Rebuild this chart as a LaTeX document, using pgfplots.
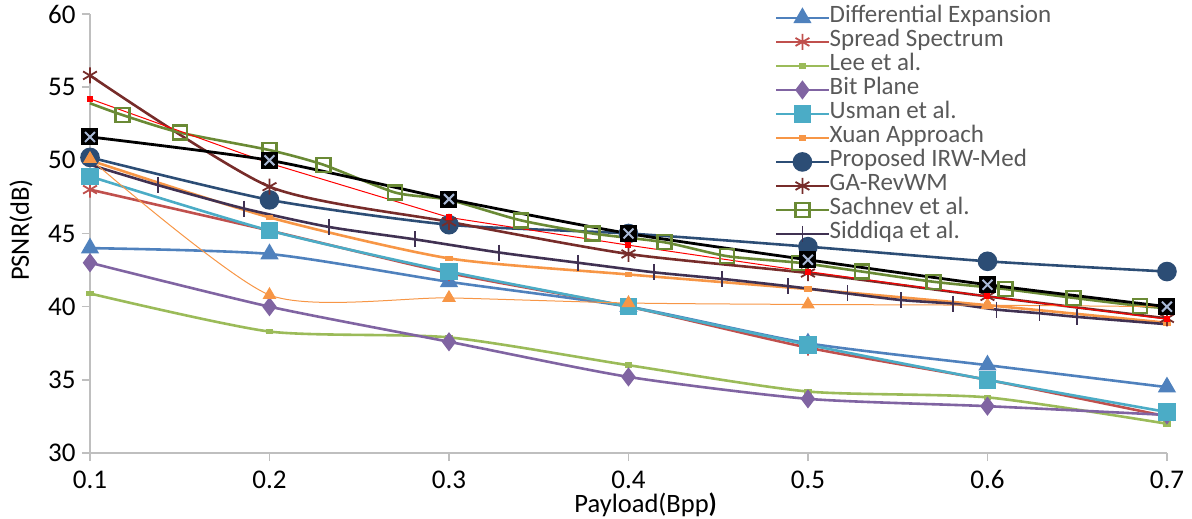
\documentclass[border=0pt]{standalone}
\usepackage{fontspec}
\setmainfont{Carlito}
\usepackage{pgfplots}
\pgfplotsset{compat=1.18}

\definecolor{cDE}{HTML}{4F81BD}
\definecolor{cSS}{HTML}{C0504D}
\definecolor{cLee}{HTML}{9BBB59}
\definecolor{cBit}{HTML}{8064A2}
\definecolor{cUsm}{HTML}{4BACC6}
\definecolor{cXuan}{HTML}{F79646}
\definecolor{cProp}{HTML}{2C4D75}
\definecolor{cGA}{HTML}{772C2A}
\definecolor{cSach}{HTML}{6A8A35}
\definecolor{cSidd}{HTML}{403152}
\definecolor{cXmark}{HTML}{A9B9D6}
\definecolor{axgray}{HTML}{BFBFBF}
\definecolor{leggray}{HTML}{595959}

\begin{document}
\begin{tikzpicture}
\useasboundingbox (-90pt,-66pt) rectangle (1102pt,453pt);
\begin{axis}[
    scale only axis,
    width=1077pt, height=439pt,
    xmin=0.1, xmax=0.7,
    ymin=30, ymax=60,
    xtick={0.1,0.2,0.3,0.4,0.5,0.6,0.7},
    ytick={30,35,40,45,50,55,60},
    /pgf/number format/assume math mode=true,
    axis x line*=bottom, axis y line*=left,
    axis line style={axgray, line width=1.5pt},
    tick style={axgray, line width=1.5pt},
    tick align=outside,
    major tick length=8pt,
    ticklabel style={font=\fontsize{27}{30}\selectfont},
    yticklabel style={xshift=-3pt},
    xticklabel style={yshift=-6pt, /pgf/number format/.cd, fixed, precision=1, zerofill},
    xlabel={Payload(Bpp\textbf{)}},
    ylabel={PSNR(dB)},
    label style={font=\fontsize{26.5}{30}\selectfont},
    xlabel style={at={(axis description cs:0.516,-0.117)}, anchor=center},
    ylabel style={at={(axis description cs:-0.064,0.508)}, anchor=center},
    clip=false,
    legend cell align=left,
    legend style={draw=none, fill=none, at={(axis description cs:0.636,1.012)},
        anchor=north west, font=\fontsize{25}{28}\selectfont, text=leggray,
        row sep=6pt, inner sep=0pt,
        nodes={inner sep=0pt, text height=14pt, text depth=4pt}},
    legend image code/.code={\draw[mark repeat=2,mark phase=2]
        plot coordinates {(0pt,0pt) (26pt,0pt) (52pt,0pt)};},
    every axis plot/.append style={line width=2.6pt, smooth, tension=0.4},
]

\addplot[cDE, mark=triangle*, mark size=8pt, mark options={solid}]
    coordinates {(0.1,44.0)(0.2,43.6)(0.3,41.7)(0.4,40.0)(0.5,37.5)(0.6,36.0)(0.7,34.5)};
\addlegendentry{Differential Expansion}

\addplot[cSS, mark=asterisk, mark size=8pt, mark options={line width=1.8pt}]
    coordinates {(0.1,48.0)(0.2,45.2)(0.3,42.3)(0.4,40.0)(0.5,37.2)(0.6,35.0)(0.7,32.5)};
\addlegendentry{Spread Spectrum}

\addplot[cLee, mark=square*, mark size=2.5pt, mark options={yscale=0.6}]
    coordinates {(0.1,40.9)(0.2,38.3)(0.3,37.9)(0.4,36.0)(0.5,34.2)(0.6,33.8)(0.7,32.0)};
\addlegendentry{Lee et al.}

\addplot[cBit, mark=diamond*, mark size=7.5pt]
    coordinates {(0.1,43.0)(0.2,40.0)(0.3,37.6)(0.4,35.2)(0.5,33.7)(0.6,33.2)(0.7,32.6)};
\addlegendentry{Bit Plane}

\addplot[cUsm, mark=square*, mark size=7.5pt]
    coordinates {(0.1,48.9)(0.2,45.2)(0.3,42.4)(0.4,40.0)(0.5,37.4)(0.6,35.0)(0.7,32.8)};
\addlegendentry{Usman et al.}

\addplot[cXuan, mark=square*, mark size=2.5pt, mark options={yscale=0.6}]
    coordinates {(0.1,50.0)(0.2,46.1)(0.3,43.3)(0.4,42.2)(0.5,41.2)(0.6,40.1)(0.7,38.9)};
\addlegendentry{Xuan Approach}

\addplot[cProp, mark=*, mark size=8.5pt]
    coordinates {(0.1,50.2)(0.2,47.3)(0.3,45.6)(0.4,45.0)(0.5,44.1)(0.6,43.1)(0.7,42.4)};
\addlegendentry{Proposed IRW-Med}

\addplot[cGA, mark=asterisk, mark size=8pt, mark options={line width=1.8pt}]
    coordinates {(0.1,55.8)(0.2,48.2)(0.3,45.8)(0.4,43.6)(0.5,42.3)(0.6,40.7)(0.7,39.2)};
\addlegendentry{GA-RevWM}

% Sachnev et al.: line through all points, squares on the inner ones
\addplot[cSach, forget plot]
    coordinates {(0.1,53.9)(0.118,53.1)(0.15,51.9)(0.2,50.7)(0.23,49.7)(0.27,47.8)
    (0.3,47.3)(0.34,45.9)(0.38,45.0)(0.42,44.4)(0.455,43.45)(0.495,43.0)(0.53,42.4)
    (0.57,41.7)(0.61,41.2)(0.648,40.6)(0.685,40.05)(0.7,39.9)};
\addplot[cSach, only marks, forget plot, mark=square, mark size=7pt, mark options={line width=2.4pt, fill=white}]
    coordinates {(0.118,53.1)(0.15,51.9)(0.2,50.7)(0.23,49.7)(0.27,47.8)
    (0.3,47.3)(0.34,45.9)(0.38,45.0)(0.42,44.4)(0.455,43.45)(0.495,43.0)(0.53,42.4)
    (0.57,41.7)(0.61,41.2)(0.648,40.6)(0.685,40.05)};
\addlegendimage{cSach, line width=2.6pt, mark=square, mark size=7pt, mark options={line width=2.4pt, fill=white}}
\addlegendentry{Sachnev et al.}

% Siddiqa et al.
\addplot[cSidd, forget plot]
    coordinates {(0.1,49.7)(0.138,48.3)(0.186,46.7)(0.233,45.45)(0.281,44.6)(0.328,43.7)
    (0.372,43.0)(0.414,42.35)(0.452,41.9)(0.489,41.4)(0.522,40.9)(0.552,40.45)
    (0.581,40.2)(0.605,39.8)(0.629,39.55)(0.65,39.3)(0.7,38.8)};
\addplot[cSidd, only marks, forget plot, mark=|, mark size=8pt, mark options={line width=1.8pt}]
    coordinates {(0.138,48.3)(0.186,46.7)(0.233,45.45)(0.281,44.6)(0.328,43.7)
    (0.372,43.0)(0.414,42.35)(0.452,41.9)(0.489,41.4)(0.522,40.9)(0.552,40.45)
    (0.581,40.2)(0.605,39.8)(0.629,39.55)(0.65,39.3)};
\addlegendimage{cSidd, line width=2.6pt, mark=|, mark size=8pt, mark options={line width=1.8pt}}
\addlegendentry{Siddiqa et al.}

% series without legend entries
\addplot[cXuan, line width=1pt, forget plot, mark=triangle*, mark size=7pt]
    coordinates {(0.1,50.1)(0.2,40.8)(0.3,40.6)(0.4,40.25)(0.5,40.15)(0.6,40.1)(0.7,40.0)};
\addplot[red, line width=1pt, sharp plot, forget plot, mark=square*, mark size=2.5pt]
    coordinates {(0.1,54.2)(0.2,49.8)(0.3,46.1)(0.4,44.2)(0.5,42.4)(0.6,40.7)(0.7,39.15)};
\addplot[black, line width=2.8pt, forget plot, mark=square*, mark size=8pt, mark options={fill=black, line width=1pt}]
    coordinates {(0.1,51.6)(0.2,50.0)(0.3,47.35)(0.4,45.0)(0.5,43.2)(0.6,41.5)(0.7,40.0)};
\addplot[cXmark, only marks, forget plot, mark=x, mark size=7pt, mark options={line width=2pt}]
    coordinates {(0.1,51.6)(0.2,50.0)(0.3,47.35)(0.4,45.0)(0.5,43.2)(0.6,41.5)(0.7,40.0)};

\end{axis}
\end{tikzpicture}
\end{document}
